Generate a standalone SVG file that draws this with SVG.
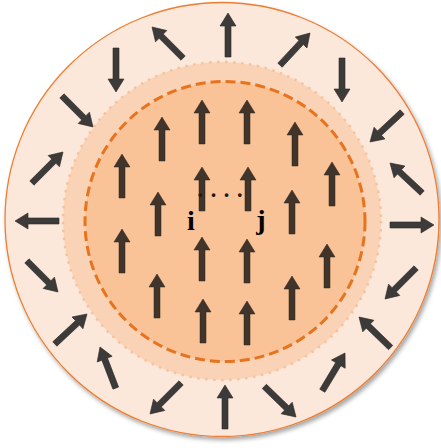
<svg xmlns="http://www.w3.org/2000/svg" width="441" height="448" viewBox="0 0 441 448">
<style>
.oa{fill:#3d3b3a;stroke:#2a2826;stroke-width:0.6}
.ia{fill:#41342a;stroke:#2e241c;stroke-width:0.5}
.lbl{font-family:"Liberation Serif","Times New Roman",serif;font-weight:bold;fill:#000}
</style>
<defs>
<filter id="sh" x="-10%" y="-10%" width="120%" height="120%">
<feDropShadow dx="2" dy="3" stdDeviation="2" flood-color="#000" flood-opacity="0.35"/>
</filter>
<path id="arr" d="M0,0 L8,13 L3,13 L3,44 L-3,44 L-3,13 L-8,13 Z"/>
</defs>
<rect width="441" height="448" fill="#fff"/>
<g id="rings">
<circle cx="222" cy="219.5" r="217" fill="#fce8da" stroke="#ed7d31" stroke-width="1.3" filter="url(#sh)"/>
<circle cx="222" cy="221" r="159" fill="#fad3b6"/>
<circle cx="222" cy="221" r="159" fill="none" stroke="#f7c29b" stroke-width="2.5" stroke-dasharray="2.5 5.5"/>
<circle cx="225" cy="221.5" r="140" fill="#f9c297" stroke="#e8731e" stroke-width="3" stroke-dasharray="10 5"/>
</g>
<g id="outer-arrows" class="oa">
<use href="#arr" transform="translate(152,27) rotate(-45)"/>
<use href="#arr" transform="translate(116,92) rotate(180)"/>
<use href="#arr" transform="translate(93,127) rotate(135)"/>
<use href="#arr" transform="translate(63,152) rotate(45)"/>
<use href="#arr" transform="translate(15,221) rotate(-90)"/>
<use href="#arr" transform="translate(228,13) rotate(0)"/>
<use href="#arr" transform="translate(310,33) rotate(43)"/>
<use href="#arr" transform="translate(342,102) rotate(180)"/>
<use href="#arr" transform="translate(370,142) rotate(-133)"/>
<use href="#arr" transform="translate(390,163) rotate(-47)"/>
<use href="#arr" transform="translate(434,225) rotate(90)"/>
<use href="#arr" transform="translate(58,292) rotate(135)"/>
<use href="#arr" transform="translate(87,314) rotate(47)"/>
<use href="#arr" transform="translate(100,347) rotate(-21)"/>
<use href="#arr" transform="translate(150,414) rotate(-135)"/>
<use href="#arr" transform="translate(225,385) rotate(0)"/>
<use href="#arr" transform="translate(296,417) rotate(134)"/>
<use href="#arr" transform="translate(345,353) rotate(31)"/>
<use href="#arr" transform="translate(359,317) rotate(-46)"/>
<use href="#arr" transform="translate(385,299) rotate(-135)"/>
</g>
<g id="inner-arrows" class="ia">
<use href="#arr" x="202" y="100"/>
<use href="#arr" x="247" y="100"/>
<use href="#arr" x="162" y="117"/>
<use href="#arr" x="295" y="122"/>
<use href="#arr" x="122" y="154"/>
<use href="#arr" x="202" y="167"/>
<use href="#arr" x="248" y="167"/>
<use href="#arr" x="332" y="162"/>
<use href="#arr" x="158" y="192"/>
<use href="#arr" x="292" y="190"/>
<use href="#arr" x="122" y="229"/>
<use href="#arr" x="202" y="237"/>
<use href="#arr" x="247" y="239"/>
<use href="#arr" x="327" y="244"/>
<use href="#arr" x="157" y="274"/>
<use href="#arr" x="292" y="276"/>
<use href="#arr" x="203" y="299"/>
<use href="#arr" x="247" y="301"/>
</g>
<g id="labels">
<text class="lbl" x="191" y="230" font-size="28" text-anchor="middle">i</text>
<text class="lbl" x="261" y="229" font-size="28" text-anchor="middle">j</text>
<text x="220" y="203" font-family="Liberation Serif, serif" font-weight="bold" font-size="22.6" fill="#1e1a17" text-anchor="middle">· · · ·</text>
</g>
</svg>
